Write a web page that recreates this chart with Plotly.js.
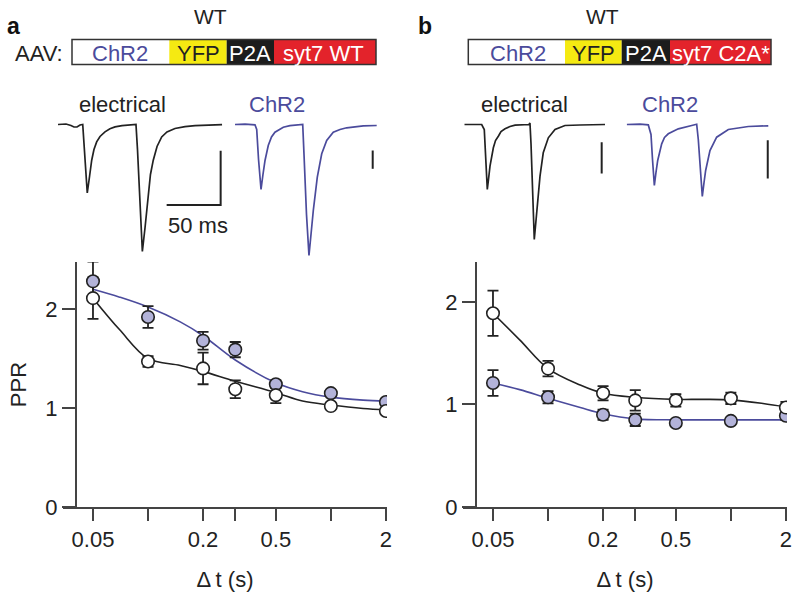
<!DOCTYPE html>
<html><head><meta charset="utf-8">
<script src="https://cdn.plot.ly/plotly-3.0.1.min.js"></script>
<style>html,body{margin:0;padding:0;background:#fff}#chart{width:800px;height:601px}</style>
</head><body><div id="chart"></div><script>
// ---------- data ----------
const dt = [0.05, 0.1, 0.2, 0.3, 0.5, 1, 2];
const dtTickText = ['0.05', '', '0.2', '', '0.5', '', '2'];
const pprTicks = [0, 1, 2];

// panel a (WT + syt7 WT)
const aElecPPR = [2.11, 1.47, 1.40, 1.19, 1.13, 1.02, 0.97];
const aElecErr = [0.21, 0.055, 0.16, 0.09, 0.08, 0.03, 0.03];
const aChR2PPR = [2.28, 1.92, 1.68, 1.59, 1.24, 1.15, 1.06];
const aChR2Err = [0.20, 0.11, 0.09, 0.077, 0.04, 0.03, 0.03];

// panel b (WT + syt7 C2A*)
const bElecPPR = [1.89, 1.35, 1.11, 1.04, 1.04, 1.06, 0.97];
const bElecErr = [0.22, 0.075, 0.07, 0.10, 0.06, 0.055, 0.055];
const bChR2PPR = [1.21, 1.07, 0.90, 0.85, 0.82, 0.84, 0.89];
const bChR2Err = [0.125, 0.06, 0.05, 0.06, 0.03, 0.02, 0.04];

// fitted curves
const fitT = [0.05, 0.07, 0.1, 0.15, 0.2, 0.3, 0.5, 0.7, 1, 1.5, 2];
const aElecFit = [2.11, 1.79, 1.50, 1.43, 1.37, 1.27, 1.155, 1.07, 1.03, 0.995, 0.98];
const aChR2Fit = [2.20, 2.12, 2.02, 1.87, 1.73, 1.485, 1.255, 1.165, 1.11, 1.08, 1.07];
const bElecFit = [1.89, 1.63, 1.35, 1.19, 1.11, 1.07, 1.05, 1.05, 1.045, 1.01, 0.976];
const bChR2Fit = [1.21, 1.145, 1.06, 0.97, 0.91, 0.86, 0.85, 0.85, 0.85, 0.85, 0.85];

// example current traces (time ms, current arb. units)
const aElecT = [0, 7.4, 12.0, 14.8, 17.6, 20.4, 22.9, 24.1, 27.1, 29.2, 31.2, 33.3, 35.8, 38.9, 43.5, 48.1, 52.8, 59.3, 66.7, 72.2, 73.6, 78.1, 80.6, 83.6, 85.6, 88.2, 91.7, 96.0, 100.9, 108.3, 117.6, 126.9, 138.9, 151.9];
const aElecI = [0, 0.5, -1, -2.5, -2.5, -0.5, 0, -20, -68.5, -52, -35.7, -25, -17.4, -12, -7.4, -4.2, -2.4, -1.2, -0.4, 0, -25, -127, -103, -68.7, -50, -35.7, -22, -12.4, -7.5, -4, -2.2, -1.2, -0.5, -0.2];
const aChR2T = [0, 9.3, 18.5, 20.1, 21.8, 24.1, 25.9, 27.8, 30.8, 33.8, 37.0, 44.7, 50.9, 57.1, 62.7, 63.9, 66.2, 68.5, 70.4, 72.5, 76.2, 80.3, 84.9, 91.0, 97.2, 103.4, 118.8, 131.2];
const aChR2I = [0, 0.3, -0.3, -5, -35, -65, -50, -36, -21, -12.5, -7.7, -2.7, -1.2, -0.5, 0, -30, -90, -131, -108, -86, -52.7, -29.3, -16, -7.7, -5, -3.3, -1.3, -1];
const bElecT = [0, 16.1, 18.5, 20.1, 21.3, 22.4, 23.8, 26.9, 28.9, 31.5, 34.0, 37.7, 42.3, 47.0, 59.9, 60.8, 61.8, 64.8, 67.0, 70.1, 73.1, 77.8, 84.0, 93.2, 107.1, 130.3];
const bElecI = [0, 0, -5, -40, -65, -55, -41.7, -23.3, -16, -11.7, -7, -4.3, -2, -0.7, 0, 1.5, -20, -115, -85, -51.7, -28.3, -13.3, -5, -1, -0.5, 0];
const bChR2T = [0, 12.3, 20.0, 22.5, 23.9, 25.6, 27.1, 28.7, 32.4, 35.0, 38.5, 47.8, 60.2, 64.8, 66.3, 68.3, 70.0, 71.6, 73.1, 77.1, 83.3, 94.1, 112.6, 131.1];
const bChR2I = [0, 0.3, -0.4, -10, -35, -61, -48, -36, -19.3, -13, -9.3, -4.3, -1, 0.3, -15, -50, -72, -58, -46, -26, -12.7, -5, -2, -1.3];

// scale bars (time ms, current arb. units)
const aElecBarT = [100.6, 150.6, 150.6];
const aElecBarI = [-80.5, -80.5, -26.2];
const aChR2BarT = [127.5, 127.5];
const aChR2BarI = [-26, -44.3];
const bElecBarT = [127.2, 127.2];
const bElecBarI = [-17.7, -49];
const bChR2BarT = [130.6, 130.6];
const bChR2BarI = [-15.7, -54];

// construct labels
const constructA = ['ChR2', 'YFP', 'P2A', 'syt7 WT'];
const constructB = ['ChR2', 'YFP', 'P2A', 'syt7 C2A*'];

// ---------- style ----------
const W = 800, H = 601;
const px = x => x / W;
const py = y => 1 - y / H;
const FONT = 'Liberation Sans, Arial, Helvetica, sans-serif';
const INK = '#222222';
const BLUE = '#4b4b9c';
const FILL = '#b3b3d9';

function fitTrace(x, y, color, xa, ya) {
  return {x: x, y: y, xaxis: xa, yaxis: ya, mode: 'lines', type: 'scatter',
    line: {color: color, width: 1.6, shape: 'spline', smoothing: 1}, hoverinfo: 'skip', showlegend: false};
}
function errTrace(y, e, xa, ya) {
  return {x: dt, y: y, xaxis: xa, yaxis: ya, mode: 'markers', type: 'scatter',
    marker: {size: 1, color: 'rgba(0,0,0,0)'},
    error_y: {type: 'data', array: e, visible: true, color: INK, thickness: 1.8, width: 5.5},
    hoverinfo: 'skip', showlegend: false};
}
function ptTrace(y, fill, xa, ya) {
  return {x: dt, y: y, xaxis: xa, yaxis: ya, mode: 'markers', type: 'scatter',
    marker: {size: 12.5, color: fill, line: {color: INK, width: 1.6}},
    showlegend: false};
}
function ephys(t, i, color, xa, ya) {
  return {x: t, y: i, xaxis: xa, yaxis: ya, mode: 'lines', type: 'scatter',
    line: {color: color, width: 1.7}, hoverinfo: 'skip', showlegend: false};
}
function bar(t, i, xa, ya) {
  return {x: t, y: i, xaxis: xa, yaxis: ya, mode: 'lines', type: 'scatter',
    line: {color: INK, width: 2}, hoverinfo: 'skip', showlegend: false};
}

const data = [
  fitTrace(fitT, aChR2Fit, BLUE, 'x', 'y'),
  fitTrace(fitT, aElecFit, INK, 'x', 'y'),
  errTrace(aChR2PPR, aChR2Err, 'x', 'y'),
  errTrace(aElecPPR, aElecErr, 'x', 'y'),
  ptTrace(aChR2PPR, FILL, 'x', 'y'),
  ptTrace(aElecPPR, '#ffffff', 'x', 'y'),

  fitTrace(fitT, bChR2Fit, BLUE, 'x2', 'y2'),
  fitTrace(fitT, bElecFit, INK, 'x2', 'y2'),
  errTrace(bChR2PPR, bChR2Err, 'x2', 'y2'),
  errTrace(bElecPPR, bElecErr, 'x2', 'y2'),
  ptTrace(bChR2PPR, FILL, 'x2', 'y2'),
  ptTrace(bElecPPR, '#ffffff', 'x2', 'y2'),

  ephys(aElecT, aElecI, INK, 'x3', 'y3'), bar(aElecBarT, aElecBarI, 'x3', 'y3'),
  ephys(aChR2T, aChR2I, BLUE, 'x4', 'y4'), bar(aChR2BarT, aChR2BarI, 'x4', 'y4'),
  ephys(bElecT, bElecI, INK, 'x5', 'y5'), bar(bElecBarT, bElecBarI, 'x5', 'y5'),
  ephys(bChR2T, bChR2I, BLUE, 'x6', 'y6'), bar(bChR2BarT, bChR2BarI, 'x6', 'y6')
];

function xAx(d0, d1, anchor) {
  return {domain: [px(d0), px(d1)], type: 'log', range: [-1.465, 0.307], anchor: anchor,
    tickmode: 'array', tickvals: dt, ticktext: dtTickText,
    ticks: 'outside', ticklen: 12, tickwidth: 2, tickcolor: '#444',
    showline: true, linewidth: 2, linecolor: '#444', showgrid: false, zeroline: false,
    tickfont: {family: FONT, size: 22, color: INK},
    title: {text: 'Δ\u2009t (s)', font: {family: FONT, size: 22, color: INK}, standoff: 20},
    automargin: false, fixedrange: true};
}
function yAx(pos, top, withTitle) {
  const a = {domain: [py(507), py(262)], range: [0, top], anchor: 'free', position: px(pos),
    tickmode: 'array', tickvals: pprTicks,
    ticks: 'outside', ticklen: 13, tickwidth: 2, tickcolor: '#444',
    showline: true, linewidth: 2, linecolor: '#444', showgrid: false, zeroline: false,
    tickfont: {family: FONT, size: 22, color: INK}, automargin: false, fixedrange: true};
  if (withTitle) a.title = {text: 'PPR', font: {family: FONT, size: 22, color: INK}, standoff: 12};
  return a;
}
function hid(d0, d1, r0, r1) {
  return {domain: [d0, d1], range: [r0, r1], visible: false, fixedrange: true};
}
const TY0 = py(260), TY1 = py(110);
const TR = [-135.5, 14.5];

const layout = {
  width: W, height: H, margin: {l: 0, r: 0, t: 0, b: 0},
  paper_bgcolor: '#ffffff', plot_bgcolor: 'rgba(0,0,0,0)',
  font: {family: FONT, color: INK},
  xaxis: xAx(63, 387, 'y'),
  yaxis: yAx(76, 2.475, true),
  xaxis2: xAx(463, 787, 'y2'),
  yaxis2: yAx(476, 2.39, false),
  xaxis3: Object.assign(hid(px(58), px(224), 0, 166 / 1.08), {anchor: 'y3'}),
  yaxis3: Object.assign(hid(TY0, TY1, TR[0], TR[1]), {anchor: 'x3'}),
  xaxis4: Object.assign(hid(px(235), px(380), 0, 145 / 1.08), {anchor: 'y4'}),
  yaxis4: Object.assign(hid(TY0, TY1, TR[0], TR[1]), {anchor: 'x4'}),
  xaxis5: Object.assign(hid(px(464.3), px(608), 0, 143.7 / 1.08), {anchor: 'y5'}),
  yaxis5: Object.assign(hid(TY0, TY1, TR[0], TR[1]), {anchor: 'x5'}),
  xaxis6: Object.assign(hid(px(626.7), px(772), 0, 145.3 / 1.08), {anchor: 'y6'}),
  yaxis6: Object.assign(hid(TY0, TY1, TR[0], TR[1]), {anchor: 'x6'}),
  shapes: [],
  annotations: []
};

function ann(text, x, y, size, color, extra) {
  layout.annotations.push(Object.assign({text: text, x: px(x), y: py(y), xref: 'paper', yref: 'paper',
    showarrow: false, xanchor: 'center', yanchor: 'middle',
    font: {family: FONT, size: size, color: color}}, extra || {}));
}
function rect(x0, x1, y0, y1, fill, lineColor, lw) {
  layout.shapes.push({type: 'rect', xref: 'paper', yref: 'paper', x0: px(x0), x1: px(x1), y0: py(y1), y1: py(y0),
    fillcolor: fill, line: {color: lineColor || fill, width: lw || 0}, layer: 'above'});
}
function construct(xs, labels, textX, y0, y1) {
  const fills = ['#ffffff', '#f5ea12', '#1c1c1c', '#e3232b'];
  const tcol = [BLUE, INK, '#ffffff', '#ffffff'];
  for (let k = 0; k < 4; k++) rect(xs[k], xs[k + 1], y0, y1, fills[k]);
  rect(xs[0], xs[4], y0, y1, 'rgba(0,0,0,0)', '#333333', 1.5);
  for (let k = 0; k < 4; k++) ann(labels[k], textX[k], (y0 + y1) / 2 + 1, 22, tcol[k]);
}

// panel labels & headers
ann('<b>a</b>', 13.5, 26, 23, '#111111');
ann('<b>b</b>', 425, 26, 23, '#111111');
ann('WT', 210, 17, 21, INK);
ann('WT', 602, 17, 21, INK);
ann('AAV:', 38.5, 53, 22, INK);
construct([72, 169.3, 226.7, 274, 376], constructA, [120, 198, 250, 323], 39.5, 64.5);
construct([468.3, 565, 621.7, 670, 771], constructB, [518, 593, 646, 720.5], 39.5, 64.5);
ann('electrical', 122, 104, 22, INK);
ann('ChR2', 277, 104, 22, BLUE);
ann('electrical', 524.5, 104, 22, INK);
ann('ChR2', 670, 104, 22, BLUE);
ann('50 ms', 198, 225, 22, INK);

Plotly.newPlot('chart', data, layout, {staticPlot: true, displayModeBar: false});
</script></body></html>
